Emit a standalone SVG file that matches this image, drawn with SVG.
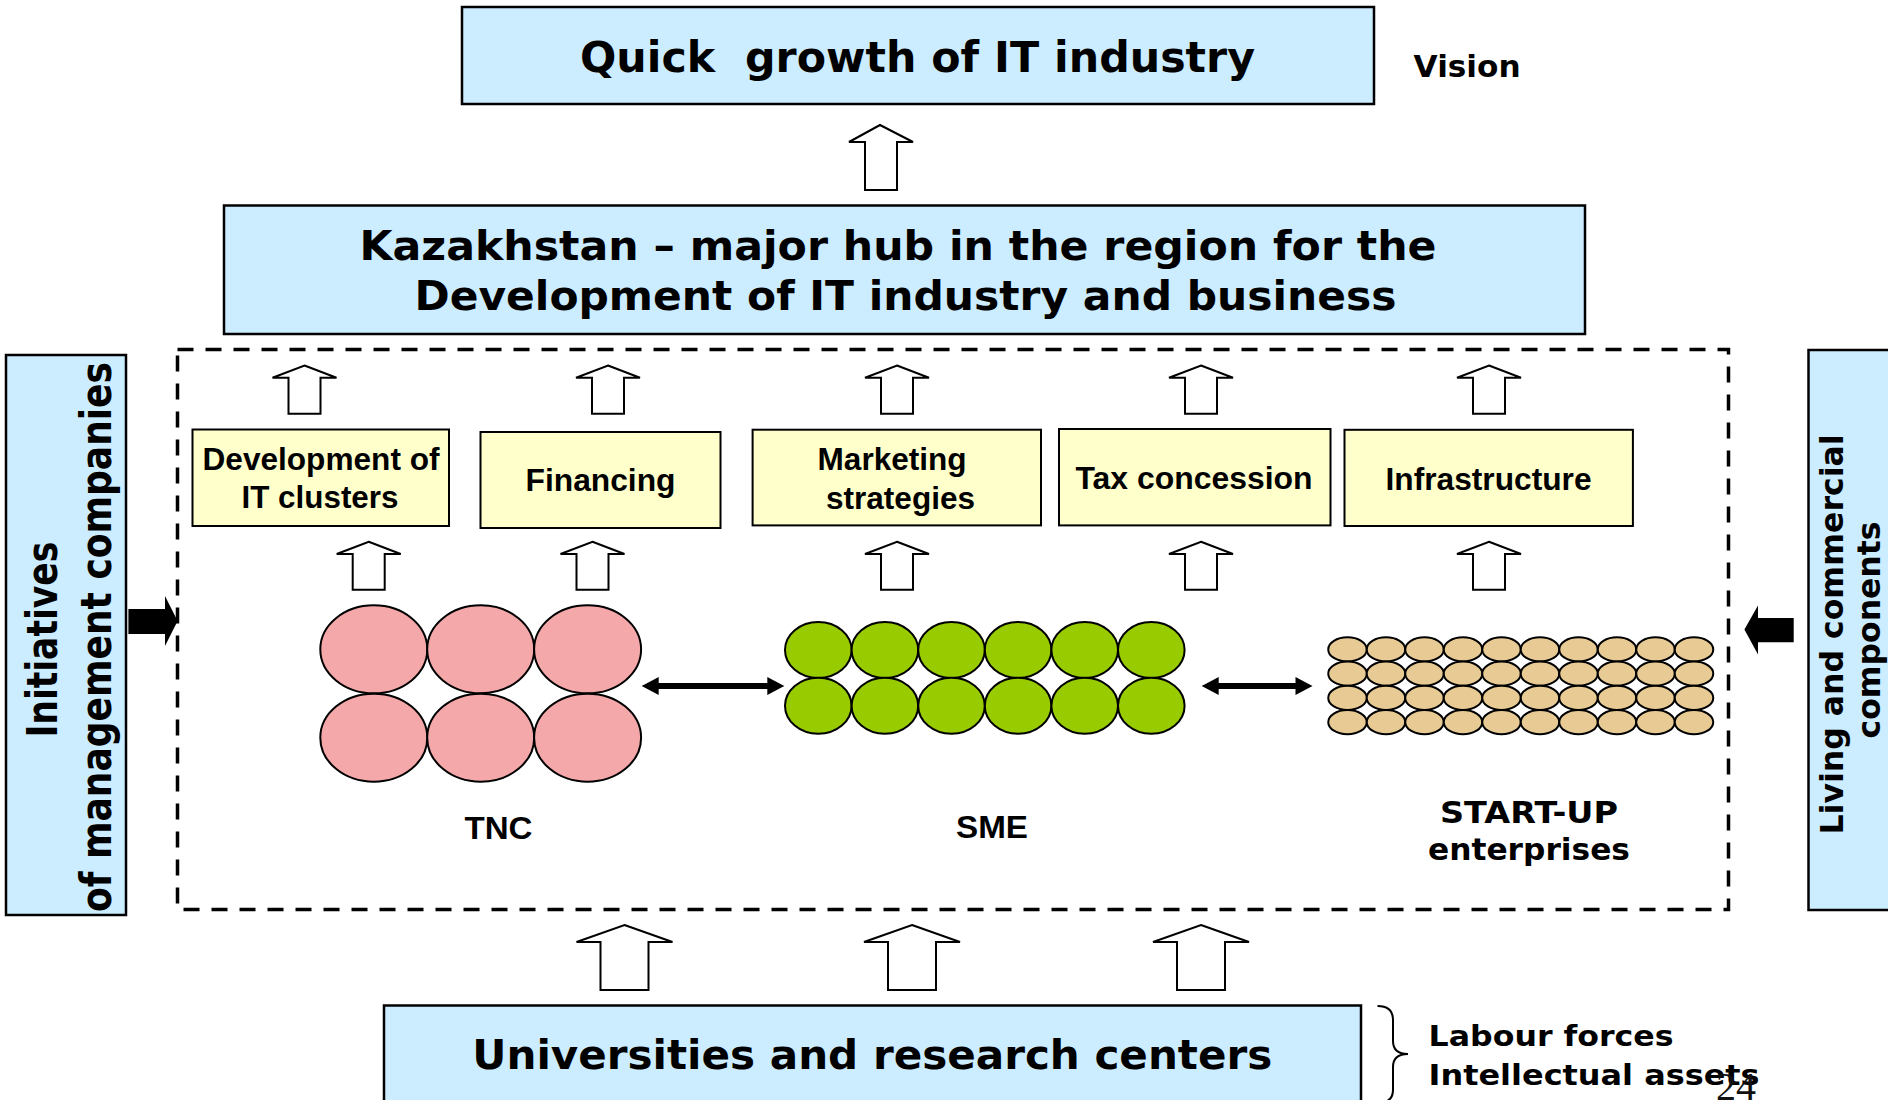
<svg xmlns="http://www.w3.org/2000/svg" width="1888" height="1100" viewBox="0 0 1888 1100">
<style>
.blue{fill:#CCECFF;stroke:#000;stroke-width:2.5}
.yel{fill:#FFFFCC;stroke:#000;stroke-width:2}
.v{font-family:"DejaVu Sans","Liberation Sans",sans-serif;font-weight:bold;fill:#000}
.a{font-family:"Liberation Sans",Arial,sans-serif;font-weight:bold;fill:#000}
.mid{text-anchor:middle}
.hol{fill:#fff;stroke:#000;stroke-width:2;stroke-linejoin:miter}
.blk{fill:#000;stroke:none}
.pink{fill:#F5A8A9;stroke:#000;stroke-width:2}
.green{fill:#99CC00;stroke:#000;stroke-width:2}
.tan{fill:#E8CB94;stroke:#000;stroke-width:2}
.dbl{stroke:#000;stroke-width:6;fill:none}
</style>
<defs>
<marker id="ah" markerUnits="userSpaceOnUse" markerWidth="18" markerHeight="18" refX="1" refY="9" orient="auto-start-reverse" viewBox="0 0 17 18">
<path d="M0,0 L17,9 L0,18 z" fill="#000"/>
</marker>
</defs>
<rect width="1888" height="1100" fill="#fff"/>

<g id="node-vision">
<rect class="blue" x="462" y="7" width="912" height="97"/>
<text class="v mid" x="917.5" y="72" font-size="42" textLength="675" lengthAdjust="spacingAndGlyphs" style="white-space:pre">Quick  growth of IT industry</text>
</g>
<g id="label-vision">
<text class="v" x="1413.6" y="77" font-size="30" textLength="107" lengthAdjust="spacingAndGlyphs">Vision</text>
</g>

<g id="node-hub">
<rect class="blue" x="224" y="205.5" width="1361" height="128.5"/>
<text class="v mid" x="898" y="260" font-size="40" textLength="1077" lengthAdjust="spacingAndGlyphs">Kazakhstan – major hub in the region for the</text>
<text class="v mid" x="905.5" y="310" font-size="40" textLength="982" lengthAdjust="spacingAndGlyphs">Development of IT industry and business</text>
</g>

<g id="node-frame">
<rect x="177.5" y="349.5" width="1551" height="560" fill="none" stroke="#000" stroke-width="3.5" stroke-dasharray="16 12"/>
</g>

<g id="node-initiatives">
<rect class="blue" x="6" y="355" width="120" height="560"/>
<text class="v mid" transform="translate(57.3,639.6) scale(1.2,1) rotate(-90)" font-size="36" textLength="196" lengthAdjust="spacingAndGlyphs">Initiatives</text>
<text class="v mid" transform="translate(111,637) scale(1.2,1) rotate(-90)" font-size="36" textLength="550" lengthAdjust="spacingAndGlyphs">of management companies</text>
</g>

<g id="node-living">
<rect class="blue" x="1808.5" y="350" width="90" height="560"/>
<text class="v mid" transform="translate(1843,634.5) rotate(-90)" font-size="31.5" textLength="400" lengthAdjust="spacingAndGlyphs">Living and commercial</text>
<text class="v mid" transform="translate(1880,630) rotate(-90)" font-size="31.5" textLength="217" lengthAdjust="spacingAndGlyphs">components</text>
</g>

<g id="node-clusters">
<rect class="yel" x="192.5" y="429.5" width="256.5" height="96.5"/>
<text class="a mid" x="321" y="470" font-size="31.5" textLength="237" lengthAdjust="spacingAndGlyphs">Development of</text>
<text class="a mid" x="320" y="508" font-size="31.5" textLength="157" lengthAdjust="spacingAndGlyphs">IT clusters</text>
</g>
<g id="node-financing">
<rect class="yel" x="480.5" y="432" width="240" height="96"/>
<text class="a mid" x="600.5" y="491" font-size="31.5" textLength="150" lengthAdjust="spacingAndGlyphs">Financing</text>
</g>
<g id="node-marketing">
<rect class="yel" x="752.6" y="429.7" width="288.4" height="95.7"/>
<text class="a" x="817.6" y="470" font-size="31.5" textLength="149" lengthAdjust="spacingAndGlyphs">Marketing</text>
<text class="a" x="826" y="508.6" font-size="31.5" textLength="149" lengthAdjust="spacingAndGlyphs">strategies</text>
</g>
<g id="node-tax">
<rect class="yel" x="1059" y="429" width="271.5" height="96.4"/>
<text class="a mid" x="1194" y="489.3" font-size="31.5" textLength="237" lengthAdjust="spacingAndGlyphs">Tax concession</text>
</g>
<g id="node-infra">
<rect class="yel" x="1344.5" y="429.8" width="288.4" height="96.2"/>
<text class="a mid" x="1488.5" y="490.3" font-size="31.5" textLength="206" lengthAdjust="spacingAndGlyphs">Infrastructure</text>
</g>

<g id="node-tnc">
<ellipse class="pink" cx="373.8" cy="649.3" rx="53.5" ry="44"/>
<ellipse class="pink" cx="480.7" cy="649.3" rx="53.5" ry="44"/>
<ellipse class="pink" cx="587.6" cy="649.3" rx="53.5" ry="44"/>
<ellipse class="pink" cx="373.8" cy="737.7" rx="53.5" ry="44"/>
<ellipse class="pink" cx="480.7" cy="737.7" rx="53.5" ry="44"/>
<ellipse class="pink" cx="587.6" cy="737.7" rx="53.5" ry="44"/>
<text class="a mid" x="498.5" y="839.4" font-size="32" textLength="68" lengthAdjust="spacingAndGlyphs">TNC</text>
</g>

<g id="node-sme">
<ellipse class="green" cx="818.3" cy="650" rx="33.3" ry="28"/>
<ellipse class="green" cx="884.9" cy="650" rx="33.3" ry="28"/>
<ellipse class="green" cx="951.5" cy="650" rx="33.3" ry="28"/>
<ellipse class="green" cx="1018.1" cy="650" rx="33.3" ry="28"/>
<ellipse class="green" cx="1084.7" cy="650" rx="33.3" ry="28"/>
<ellipse class="green" cx="1151.3" cy="650" rx="33.3" ry="28"/>
<ellipse class="green" cx="818.3" cy="705.7" rx="33.3" ry="28"/>
<ellipse class="green" cx="884.9" cy="705.7" rx="33.3" ry="28"/>
<ellipse class="green" cx="951.5" cy="705.7" rx="33.3" ry="28"/>
<ellipse class="green" cx="1018.1" cy="705.7" rx="33.3" ry="28"/>
<ellipse class="green" cx="1084.7" cy="705.7" rx="33.3" ry="28"/>
<ellipse class="green" cx="1151.3" cy="705.7" rx="33.3" ry="28"/>
<text class="a mid" x="992" y="837.6" font-size="32" textLength="72" lengthAdjust="spacingAndGlyphs">SME</text>
</g>

<g id="node-startup">
<g id="startup-grid">
<ellipse class="tan" cx="1347.5" cy="649.4" rx="19.25" ry="12.1"/><ellipse class="tan" cx="1386" cy="649.4" rx="19.25" ry="12.1"/><ellipse class="tan" cx="1424.5" cy="649.4" rx="19.25" ry="12.1"/><ellipse class="tan" cx="1463" cy="649.4" rx="19.25" ry="12.1"/><ellipse class="tan" cx="1501.5" cy="649.4" rx="19.25" ry="12.1"/><ellipse class="tan" cx="1540" cy="649.4" rx="19.25" ry="12.1"/><ellipse class="tan" cx="1578.5" cy="649.4" rx="19.25" ry="12.1"/><ellipse class="tan" cx="1617" cy="649.4" rx="19.25" ry="12.1"/><ellipse class="tan" cx="1655.5" cy="649.4" rx="19.25" ry="12.1"/><ellipse class="tan" cx="1694" cy="649.4" rx="19.25" ry="12.1"/>
<ellipse class="tan" cx="1347.5" cy="673.65" rx="19.25" ry="12.1"/><ellipse class="tan" cx="1386" cy="673.65" rx="19.25" ry="12.1"/><ellipse class="tan" cx="1424.5" cy="673.65" rx="19.25" ry="12.1"/><ellipse class="tan" cx="1463" cy="673.65" rx="19.25" ry="12.1"/><ellipse class="tan" cx="1501.5" cy="673.65" rx="19.25" ry="12.1"/><ellipse class="tan" cx="1540" cy="673.65" rx="19.25" ry="12.1"/><ellipse class="tan" cx="1578.5" cy="673.65" rx="19.25" ry="12.1"/><ellipse class="tan" cx="1617" cy="673.65" rx="19.25" ry="12.1"/><ellipse class="tan" cx="1655.5" cy="673.65" rx="19.25" ry="12.1"/><ellipse class="tan" cx="1694" cy="673.65" rx="19.25" ry="12.1"/>
<ellipse class="tan" cx="1347.5" cy="697.9" rx="19.25" ry="12.1"/><ellipse class="tan" cx="1386" cy="697.9" rx="19.25" ry="12.1"/><ellipse class="tan" cx="1424.5" cy="697.9" rx="19.25" ry="12.1"/><ellipse class="tan" cx="1463" cy="697.9" rx="19.25" ry="12.1"/><ellipse class="tan" cx="1501.5" cy="697.9" rx="19.25" ry="12.1"/><ellipse class="tan" cx="1540" cy="697.9" rx="19.25" ry="12.1"/><ellipse class="tan" cx="1578.5" cy="697.9" rx="19.25" ry="12.1"/><ellipse class="tan" cx="1617" cy="697.9" rx="19.25" ry="12.1"/><ellipse class="tan" cx="1655.5" cy="697.9" rx="19.25" ry="12.1"/><ellipse class="tan" cx="1694" cy="697.9" rx="19.25" ry="12.1"/>
<ellipse class="tan" cx="1347.5" cy="722.15" rx="19.25" ry="12.1"/><ellipse class="tan" cx="1386" cy="722.15" rx="19.25" ry="12.1"/><ellipse class="tan" cx="1424.5" cy="722.15" rx="19.25" ry="12.1"/><ellipse class="tan" cx="1463" cy="722.15" rx="19.25" ry="12.1"/><ellipse class="tan" cx="1501.5" cy="722.15" rx="19.25" ry="12.1"/><ellipse class="tan" cx="1540" cy="722.15" rx="19.25" ry="12.1"/><ellipse class="tan" cx="1578.5" cy="722.15" rx="19.25" ry="12.1"/><ellipse class="tan" cx="1617" cy="722.15" rx="19.25" ry="12.1"/><ellipse class="tan" cx="1655.5" cy="722.15" rx="19.25" ry="12.1"/><ellipse class="tan" cx="1694" cy="722.15" rx="19.25" ry="12.1"/>
</g>
<text class="v mid" x="1529" y="822.7" font-size="30" textLength="178" lengthAdjust="spacingAndGlyphs">START-UP</text>
<text class="v mid" x="1529" y="860" font-size="30" textLength="202" lengthAdjust="spacingAndGlyphs">enterprises</text>
</g>

<g id="node-universities">
<rect class="blue" x="384" y="1005.5" width="977" height="110"/>
<text class="v mid" x="872.3" y="1069" font-size="40" textLength="800" lengthAdjust="spacingAndGlyphs">Universities and research centers</text>
</g>

<g id="node-resources">
<path d="M1377.5,1006 Q1393,1006 1393,1020 L1393,1041 Q1393,1054 1408,1054 Q1393,1054 1393,1067 L1393,1090 Q1393,1103 1377.5,1103" fill="none" stroke="#000" stroke-width="2"/>
<text class="v" x="1428.6" y="1046.3" font-size="29" textLength="245" lengthAdjust="spacingAndGlyphs">Labour forces</text>
<text class="v" x="1428.6" y="1085" font-size="29" textLength="331" lengthAdjust="spacingAndGlyphs">Intellectual assets</text>
</g>

<g id="page-number">
<text x="1716" y="1100" font-family="'Liberation Serif','Times New Roman',serif" font-size="40" fill="#111">24</text>
</g>

<g id="connectors">
<polygon class="hol" points="880,125 913,142 897,142 897,190 865,190 865,142 849,142"/>
<polygon class="hol" points="304.5,365.5 336.5,377.7 320.5,377.7 320.5,413.7 288.5,413.7 288.5,377.7 272.5,377.7"/>
<polygon class="hol" points="608,365.5 640,377.7 624,377.7 624,413.7 592,413.7 592,377.7 576,377.7"/>
<polygon class="hol" points="897,365.5 929,377.7 913,377.7 913,413.7 881,413.7 881,377.7 865,377.7"/>
<polygon class="hol" points="1201,365.5 1233,377.7 1217,377.7 1217,413.7 1185,413.7 1185,377.7 1169,377.7"/>
<polygon class="hol" points="1489,365.5 1521,377.7 1505,377.7 1505,413.7 1473,413.7 1473,377.7 1457,377.7"/>
<polygon class="hol" points="368.7,541.7 400.7,554 384.7,554 384.7,589.7 352.7,589.7 352.7,554 336.7,554"/>
<polygon class="hol" points="592.5,541.7 624.5,554 608.5,554 608.5,589.7 576.5,589.7 576.5,554 560.5,554"/>
<polygon class="hol" points="897,541.7 929,554 913,554 913,589.7 881,589.7 881,554 865,554"/>
<polygon class="hol" points="1201,541.7 1233,554 1217,554 1217,589.7 1185,589.7 1185,554 1169,554"/>
<polygon class="hol" points="1489,541.7 1521,554 1505,554 1505,589.7 1473,589.7 1473,554 1457,554"/>
<polygon class="hol" points="624.5,925 672.5,942 648.5,942 648.5,990 600.5,990 600.5,942 576.5,942"/>
<polygon class="hol" points="912,925 960,942 936,942 936,990 888,990 888,942 864,942"/>
<polygon class="hol" points="1201,925 1249,942 1225,942 1225,990 1177,990 1177,942 1153,942"/>
<line class="dbl" x1="657.7" y1="686" x2="768.3" y2="686" marker-start="url(#ah)" marker-end="url(#ah)"/>
<line class="dbl" x1="1217.7" y1="686" x2="1296.5" y2="686" marker-start="url(#ah)" marker-end="url(#ah)"/>
<polygon class="blk" points="128.4,609 165,609 165,596 177.6,621 165,646 165,634 128.4,634"/>
<polygon class="blk" points="1793.7,618 1758,618 1758,605.6 1744.4,629.4 1758,654.6 1758,642.3 1793.7,642.3"/>
</g>
</svg>
